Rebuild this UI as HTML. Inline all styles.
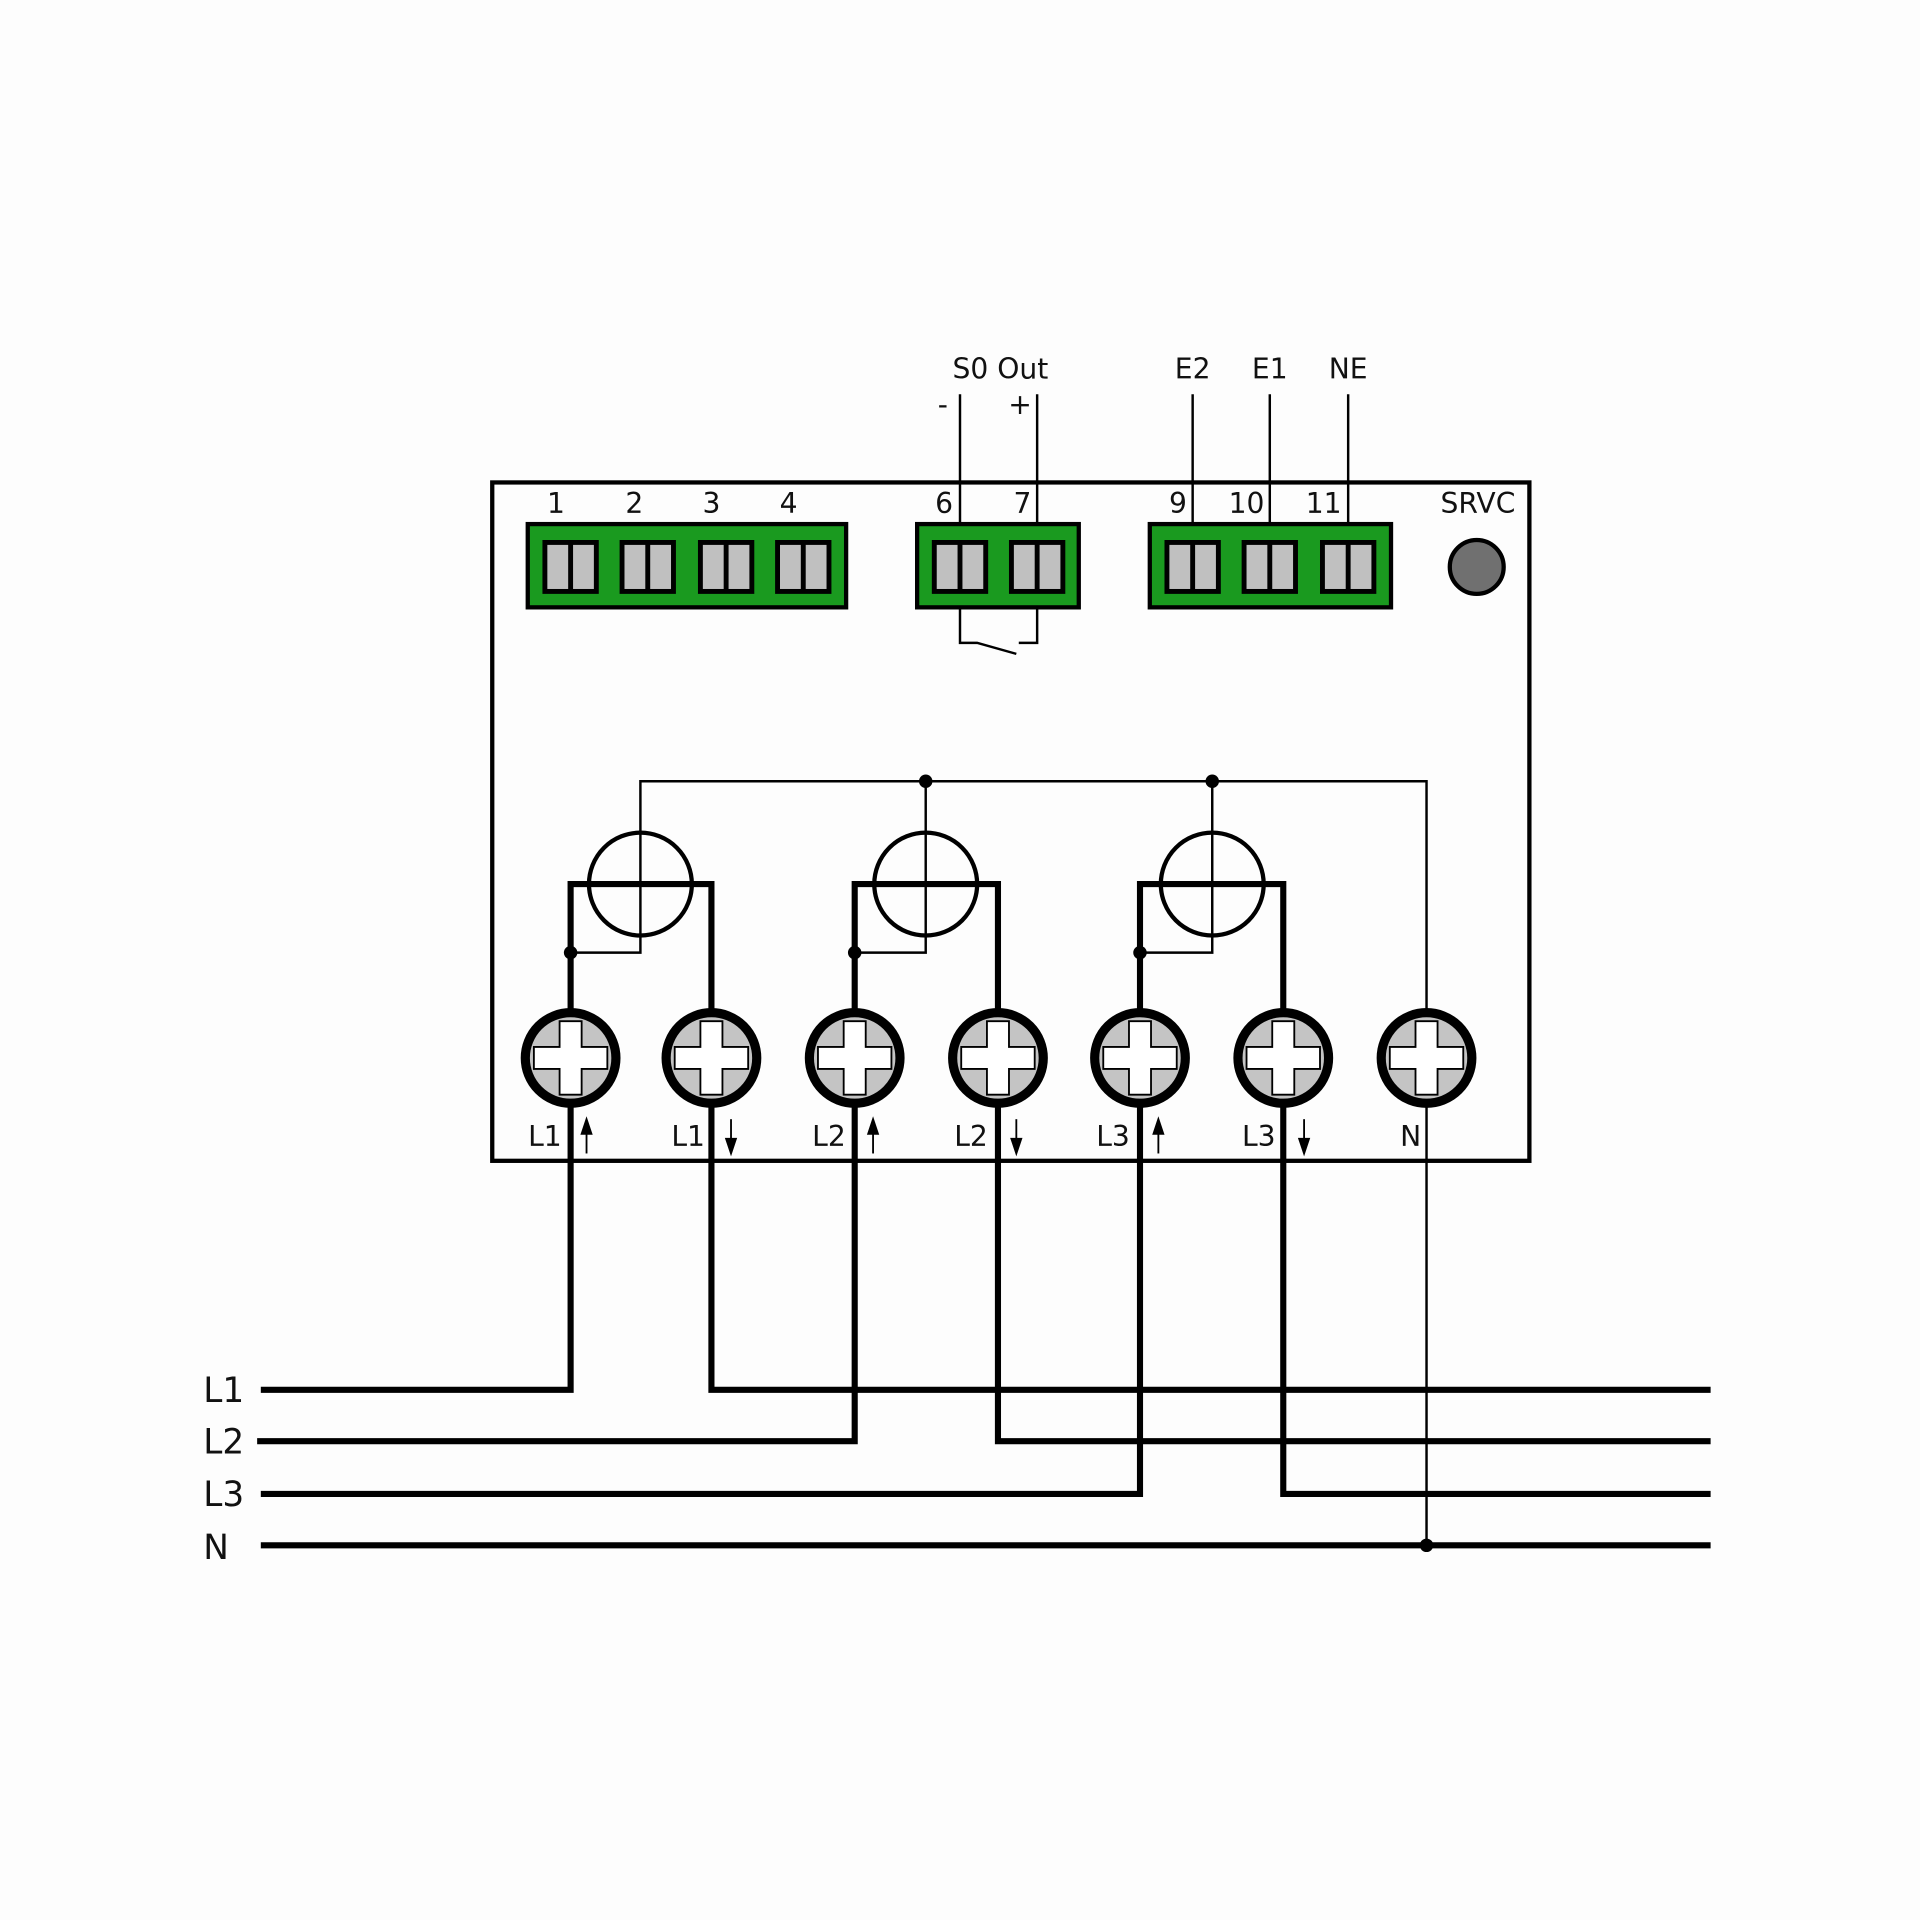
<!DOCTYPE html>
<html><head><style>html,body{margin:0;padding:0;background:#fdfdfd}svg{display:block}</style></head>
<body>
<svg width="1920" height="1920" viewBox="0 0 1568 1568" xmlns="http://www.w3.org/2000/svg" font-family="DejaVu Sans, Liberation Sans, sans-serif">
<defs>
<g id="slot"><rect x="-21" y="-20" width="42" height="40" fill="#c0c0c0" stroke="#000" stroke-width="4"/><line x1="0" y1="-20" x2="0" y2="20" stroke="#000" stroke-width="4"/></g>
<g id="term"><circle r="37" fill="#c4c4c4" stroke="#000" stroke-width="7.5"/><path d="M-9,-30 H9 V-9 H30 V9 H9 V30 H-9 V9 H-30 V-9 H-9 Z" fill="#fff" stroke="#000" stroke-width="1.5"/></g>
</defs>
<rect width="1568" height="1568" fill="#fdfdfd"/>
<g stroke="#000" stroke-width="2" fill="none">
<line x1="784" y1="322" x2="784" y2="430"/><line x1="847" y1="322" x2="847" y2="430"/>
<line x1="974" y1="322" x2="974" y2="430"/><line x1="1037" y1="322" x2="1037" y2="430"/><line x1="1101" y1="322" x2="1101" y2="430"/>
<polyline points="784,496 784,525 798,525 830,534"/><polyline points="832,525 847,525 847,496"/>
</g>
<rect x="402" y="394" width="847" height="554" fill="none" stroke="#000" stroke-width="3.5"/>
<g fill="#1a9a1f" stroke="#000" stroke-width="3.5">
<rect x="431" y="428" width="260" height="68"/><rect x="749" y="428" width="132" height="68"/><rect x="939" y="428" width="197" height="68"/>
</g>
<g>
<use href="#slot" x="466" y="463"/><use href="#slot" x="529" y="463"/><use href="#slot" x="593" y="463"/><use href="#slot" x="656" y="463"/>
<use href="#slot" x="784" y="463"/><use href="#slot" x="847" y="463"/>
<use href="#slot" x="974" y="463"/><use href="#slot" x="1037" y="463"/><use href="#slot" x="1101" y="463"/>
</g>
<circle cx="1206" cy="463" r="22" fill="#707070" stroke="#000" stroke-width="3.5"/>
<g font-size="23" fill="#111" text-anchor="middle">
<text x="817" y="309">S0 Out</text><text x="770" y="338">-</text><text x="833" y="338">+</text>
<text x="974" y="309">E2</text><text x="1037" y="309">E1</text><text x="1101" y="309">NE</text>
<text x="454" y="419">1</text><text x="518" y="419">2</text><text x="581" y="419">3</text><text x="644" y="419">4</text>
<text x="771" y="419">6</text><text x="835" y="419">7</text><text x="962" y="419">9</text><text x="1018" y="419">10</text><text x="1081" y="419">11</text>
<text x="1207" y="419">SRVC</text>
<text x="445" y="936">L1</text><text x="562" y="936">L1</text><text x="677" y="936">L2</text><text x="793" y="936">L2</text><text x="909" y="936">L3</text><text x="1028" y="936">L3</text><text x="1152" y="936">N</text>
</g>
<g font-size="28" fill="#111">
<text x="166" y="1145">L1</text><text x="166" y="1187">L2</text><text x="166" y="1230">L3</text><text x="166" y="1273">N</text>
</g>
<g stroke="#000" stroke-width="2" fill="none">
<polyline points="1165,1262 1165,638 523,638 523,778 466,778"/>
<polyline points="756,638 756,778 698,778"/>
<polyline points="990,638 990,778 931,778"/>
</g>
<g fill="none" stroke="#000" stroke-width="3.5">
<circle cx="523" cy="722" r="42"/><circle cx="756" cy="722" r="42"/><circle cx="990" cy="722" r="42"/>
</g>
<g stroke="#000" stroke-width="5" fill="none">
<polyline points="466,864 466,722 581,722 581,864"/>
<polyline points="698,864 698,722 815,722 815,864"/>
<polyline points="931,864 931,722 1048,722 1048,864"/>
<polyline points="213,1135 466,1135 466,864"/>
<polyline points="1397,1135 581,1135 581,864"/>
<polyline points="210,1177 698,1177 698,864"/>
<polyline points="1397,1177 815,1177 815,864"/>
<polyline points="213,1220 931,1220 931,864"/>
<polyline points="1397,1220 1048,1220 1048,864"/>
<line x1="213" y1="1262" x2="1397" y2="1262"/>
</g>
<g fill="#000">
<circle cx="756" cy="638" r="5.5"/><circle cx="990" cy="638" r="5.5"/>
<circle cx="466" cy="778" r="5.5"/><circle cx="698" cy="778" r="5.5"/><circle cx="931" cy="778" r="5.5"/>
<circle cx="1165" cy="1262" r="5.5"/>
</g>
<use href="#term" x="466" y="864"/><use href="#term" x="581" y="864"/><use href="#term" x="698" y="864"/><use href="#term" x="815" y="864"/><use href="#term" x="931" y="864"/><use href="#term" x="1048" y="864"/><use href="#term" x="1165" y="864"/>
<g stroke="#000" stroke-width="1.5" fill="#000">
<line x1="479" y1="942" x2="479" y2="922"/><path d="M475,926 L479,914 L483,926Z"/>
<line x1="713" y1="942" x2="713" y2="922"/><path d="M709,926 L713,914 L717,926Z"/>
<line x1="946" y1="942" x2="946" y2="922"/><path d="M942,926 L946,914 L950,926Z"/>
<line x1="597" y1="914" x2="597" y2="934"/><path d="M593,930 L597,942 L601,930Z"/>
<line x1="830" y1="914" x2="830" y2="934"/><path d="M826,930 L830,942 L834,930Z"/>
<line x1="1065" y1="914" x2="1065" y2="934"/><path d="M1061,930 L1065,942 L1069,930Z"/>
</g>
</svg>
</body></html>
